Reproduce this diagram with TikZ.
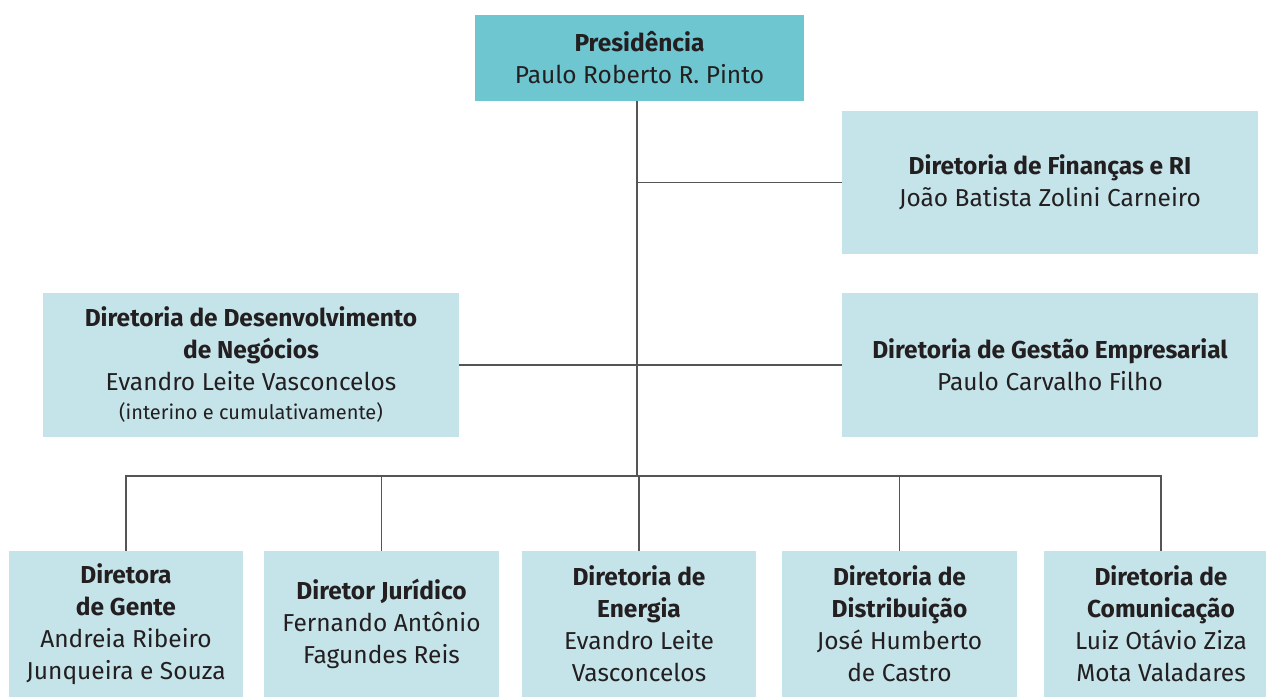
\documentclass[tikz,border=0pt]{standalone}
\usepackage{fontspec}
\setmainfont{Fira Sans}
\definecolor{boxdark}{HTML}{6EC6D1}
\definecolor{boxlight}{HTML}{C5E4EA}
\definecolor{txt}{HTML}{231F20}
\definecolor{linec}{HTML}{555555}
\begin{document}
\begin{tikzpicture}[x=1pt,y=-1pt,
  box/.style={fill=boxlight,draw=none,inner sep=0pt,align=center,text=txt,
    font=\fontsize{24.5}{32}\selectfont},
  conn/.style={draw=linec,line width=1.5pt}]
\useasboundingbox (0,0) rectangle (1266,697);
\fill[white] (0,0) rectangle (1266,697);
\node[box,fill=boxdark,minimum width=329pt,minimum height=86pt] (pres) at (639.5,58)
  {\textbf{Presidência}\\Paulo Roberto R. Pinto};
\node[box,minimum width=416pt,minimum height=143pt] (fin) at (1050,182.5)
  {\textbf{Diretoria de Finanças e RI}\\João Batista Zolini Carneiro};
\node[box,minimum width=416pt,minimum height=144pt] (des) at (251,365)
  {\textbf{Diretoria de Desenvolvimento}\\\textbf{de Negócios}\\Evandro Leite Vasconcelos\\[-3pt]{\fontsize{20}{26}\selectfont(interino e cumulativamente)}};
\node[box,minimum width=416pt,minimum height=144pt] (ges) at (1050,365)
  {\textbf{Diretoria de Gestão Empresarial}\\Paulo Carvalho Filho};
\node[box,minimum width=234pt,minimum height=146pt] (b1) at (126,624)
  {\textbf{Diretora}\\\textbf{de Gente}\\Andreia Ribeiro\\Junqueira e Souza};
\node[box,minimum width=235pt,minimum height=146pt] (b2) at (381.5,624)
  {\textbf{Diretor Jurídico}\\Fernando Antônio\\Fagundes Reis};
\node[box,minimum width=234pt,minimum height=146pt] (b3) at (639,624)
  {\textbf{Diretoria de}\\\textbf{Energia}\\Evandro Leite\\Vasconcelos};
\node[box,minimum width=235pt,minimum height=146pt] (b4) at (899.5,624)
  {\textbf{Diretoria de}\\\textbf{Distribuição}\\José Humberto\\de Castro};
\node[box,minimum width=234pt,minimum height=146pt] (b5) at (1161,624)
  {\textbf{Diretoria de}\\\textbf{Comunicação}\\Luiz Otávio Ziza\\Mota Valadares};
\coordinate (bus) at (637,476);
\coordinate (trunk) at (637,101);
\draw[conn] (trunk) -- (bus);
\draw[conn] (trunk |- fin.west) -- (fin.west);
\draw[conn] (des.east) -- (ges.west);
\draw[conn,line cap=rect] (b1.north |- bus) -- (b5.north |- bus);
\foreach \b in {b1,b2,b3,b4,b5} \draw[conn] (\b.north |- bus) -- (\b.north);
\end{tikzpicture}
\end{document}
